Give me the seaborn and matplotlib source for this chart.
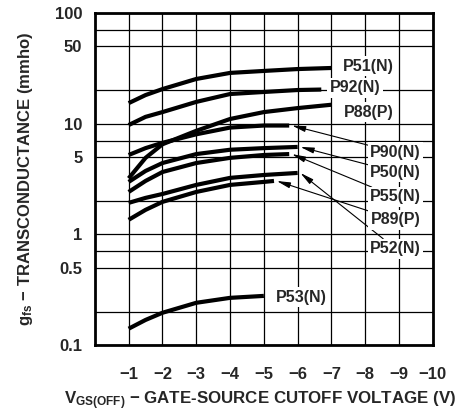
import matplotlib
matplotlib.use("Agg")
import matplotlib.pyplot as plt
import seaborn as sns
import pandas as pd
from matplotlib.ticker import NullLocator

# curves (V, mmho)
vgs_p51 = [-1, -1.5, -2, -3, -4, -5, -6, -7]
gfs_p51 = [15.3, 18.1, 20.5, 25.3, 28.7, 29.9, 31.1, 31.8]
vgs_p92 = [-1, -1.5, -2, -3, -4, -5, -6, -6.7]
gfs_p92 = [9.7, 11.5, 12.7, 15.7, 18.5, 19.3, 20.1, 20.3]
vgs_p88 = [-1, -1.5, -2, -3, -4, -5, -6, -7]
gfs_p88 = [3.2, 4.9, 6.5, 8.6, 11.0, 12.7, 13.8, 14.8]
vgs_p90 = [-1, -1.5, -2, -3, -4, -5, -5.75]
gfs_p90 = [5.2, 6.0, 6.7, 8.0, 9.2, 9.6, 9.6]
vgs_p50 = [-1, -1.5, -2, -3, -4, -5, -6]
gfs_p50 = [2.97, 3.73, 4.4, 5.3, 5.8, 6.0, 6.15]
vgs_p55 = [-1, -1.5, -2, -3, -4, -5, -5.75]
gfs_p55 = [2.41, 3.03, 3.65, 4.4, 4.9, 5.2, 5.3]
vgs_p52 = [-1, -1.5, -2, -3, -4, -5, -6]
gfs_p52 = [1.92, 2.13, 2.31, 2.79, 3.23, 3.43, 3.58]
vgs_p89 = [-1, -1.5, -2, -3, -4, -5, -5.3]
gfs_p89 = [1.35, 1.66, 1.96, 2.41, 2.79, 2.97, 3.03]
vgs_p53 = [-1, -1.5, -2, -3, -4, -5]
gfs_p53 = [0.14, 0.168, 0.195, 0.24, 0.266, 0.277]

names = ["P51(N)", "P92(N)", "P88(P)", "P90(N)", "P50(N)", "P55(N)", "P52(N)", "P89(P)", "P53(N)"]
all_vgs = [vgs_p51, vgs_p92, vgs_p88, vgs_p90, vgs_p50, vgs_p55, vgs_p52, vgs_p89, vgs_p53]
all_gfs = [gfs_p51, gfs_p92, gfs_p88, gfs_p90, gfs_p50, gfs_p55, gfs_p52, gfs_p89, gfs_p53]

# label positions and whether they point with an arrow
label_x = [-8.1, -7.7, -8.1, -8.9, -8.9, -8.9, -8.9, -8.9, -6.1]
label_y = [33, 21, 12.7, 5.5, 3.65, 2.17, 0.74, 1.35, 0.27]
label_arrow = [False, False, False, True, True, True, True, True, False]

grid_y = [0.1, 0.2, 0.5, 0.7, 1, 2, 5, 7, 10, 20, 50, 70, 100]
ytick_text = ["0.1", "", "0.5", "", "1", "", "5", "", "10", "", "50", "", "100"]
xticks = [-1, -2, -3, -4, -5, -6, -7, -8, -9, -10]

rows = []
for n, xs, ys in zip(names, all_vgs, all_gfs):
    for x, y in zip(xs, ys):
        rows.append({"device": n, "vgs": x, "gfs": y})
df = pd.DataFrame(rows)

sns.set_style("white")
plt.rcParams["font.family"] = ["Liberation Sans", "DejaVu Sans"]
plt.rcParams["font.weight"] = "bold"
plt.rcParams["axes.labelweight"] = "bold"
plt.rcParams["mathtext.fontset"] = "custom"
plt.rcParams["mathtext.rm"] = "Liberation Sans:bold"
plt.rcParams["mathtext.it"] = "Liberation Sans:bold"
plt.rcParams["mathtext.bf"] = "Liberation Sans:bold"

fig = plt.figure(figsize=(4.72, 4.17), dpi=100)
ax = fig.add_axes([0.201, 0.173, 0.716, 0.796])

sns.lineplot(data=df, x="vgs", y="gfs", hue="device", units="device", estimator=None,
             sort=False, palette=["black"] * len(names), lw=3, legend=False, ax=ax,
             solid_capstyle="butt")

ax.set_yscale("log")
ax.set_ylim(0.1, 100)
ax.set_xlim(0, -10)
ax.set_yticks(grid_y)
ax.set_yticklabels(ytick_text)
ax.yaxis.set_minor_locator(NullLocator())
ax.set_xticks(xticks)
ax.set_xticklabels([f"\u2212{abs(v)}" for v in xticks])
ax.grid(True, color="black", lw=0.9)
ax.tick_params(length=0, labelsize=12)
ax.tick_params(axis="x", pad=16)
ax.tick_params(axis="y", pad=9)
for s in ax.spines.values():
    s.set_linewidth(2)
    s.set_color("black")

for n, xs, ys, lx, ly, arr in zip(names, all_vgs, all_gfs, label_x, label_y, label_arrow):
    box = dict(boxstyle="square,pad=0.15", fc="white", ec="none")
    if arr:
        ax.annotate(n, xy=(xs[-1] - 0.08, ys[-1]), xytext=(lx, ly), ha="center", va="center",
                    fontsize=11.5, fontweight="bold", bbox=box, zorder=5,
                    arrowprops=dict(arrowstyle="-|>,head_length=0.7,head_width=0.15",
                                    color="black", lw=0.8, shrinkA=0, shrinkB=0))
    else:
        ax.text(lx, ly, n, ha="center", va="center", fontsize=11.5, fontweight="bold",
                bbox=box, zorder=5)

ax.set_xlabel(r"$\mathrm{V_{GS(OFF)}}$ $-$ GATE-SOURCE CUTOFF VOLTAGE (V)", fontsize=12.2,
              fontweight="bold")
ax.xaxis.set_label_coords(0.49, -0.135)
ax.set_ylabel(r"$\mathrm{g_{fs}}$ $-$ TRANSCONDUCTANCE (mmho)", fontsize=12,
              fontweight="bold", labelpad=14)

fig.savefig("out.png", dpi=100)
